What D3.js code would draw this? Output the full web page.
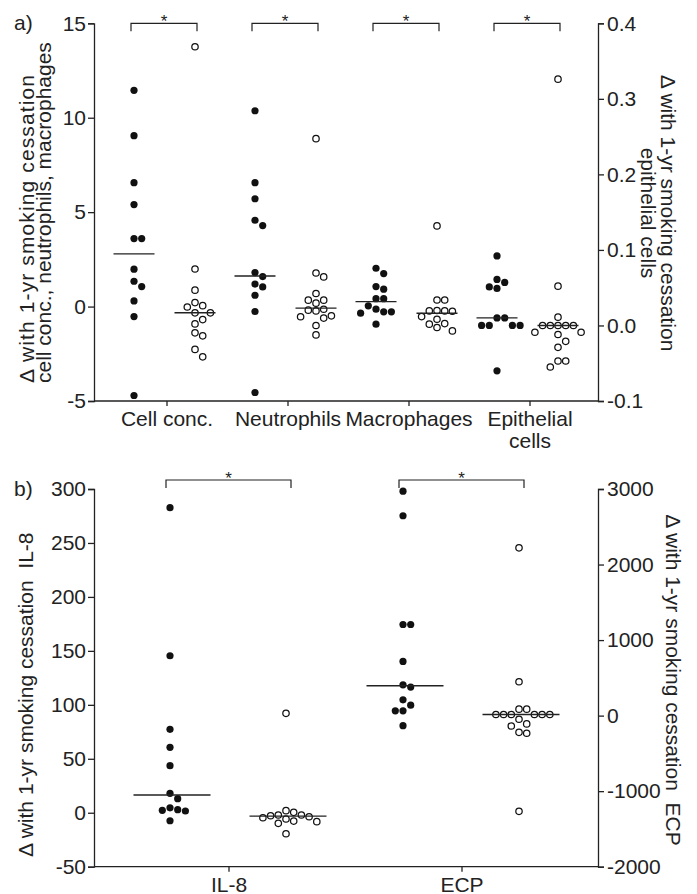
<!DOCTYPE html>
<html>
<head>
<meta charset="utf-8">
<script src="https://cdn.jsdelivr.net/npm/d3@7"></script>
<style>
  body { margin: 0; background: #fff; }
  text { font-family: "Liberation Sans", Arial, sans-serif; fill: #222; }
</style>
</head>
<body>
<div id="chart"></div>
<script>
// ---- panel a: cell counts (left axis) and epithelial cells (right axis)
const cellCategories = ['Cell conc.', 'Neutrophils', 'Macrophages', 'Epithelial cells']
const cellConcBefore = [11.45, 9.05, 6.56, 5.40, 3.60, 3.60, 1.98, 1.34, 1.06, 0.30, -0.53, -4.71]
const cellConcAfter = [13.76, 1.99, 0.87, 0.21, 0.05, -0.02, -0.33, -0.33, -0.69, -0.92, -1.39, -1.55, -2.27, -2.66]
const neutrophilsBefore = [10.37, 6.56, 5.71, 4.57, 4.29, 1.80, 1.59, 1.19, 1.04, 0.60, -0.26, -4.55]
const neutrophilsAfter = [8.89, 1.78, 1.57, 0.69, 0.34, 0.34, 0.18, -0.14, -0.19, -0.23, -0.49, -0.54, -0.61, -1.00, -1.50]
const macrophagesBefore = [2.03, 1.75, 1.06, 0.92, 0.42, 0.42, 0.04, -0.14, -0.28, -0.35, -0.28, -0.93]
const macrophagesAfter = [4.27, 0.35, 0.35, -0.21, -0.23, -0.25, -0.23, -0.53, -0.67, -0.90, -0.93, -1.11, -1.29]
const epithelialBefore = [0.092, 0.061, 0.057, 0.051, 0.049, 0.010, 0.010, 0.0, 0.0, 0.0, 0.0, -0.060]
const epithelialAfter = [0.326, 0.052, 0.011, 0, 0, 0, 0, 0, -0.009, -0.009, -0.012, -0.021, -0.029, -0.047, -0.047, -0.055]
const cellMedians = [[2.79, -0.33], [1.62, -0.08], [0.26, -0.35], [0.010, 0.0]]
const cellRightAxis = [false, false, false, true]
const cellLeftTicks = [-5, 0, 5, 10, 15]
const cellRightTicks = [-0.1, 0.0, 0.1, 0.2, 0.3, 0.4]

// ---- panel b: IL-8 (left axis) and ECP (right axis)
const mediatorCategories = ['IL-8', 'ECP']
const il8Before = [282.7, 145.5, 77.3, 60.6, 43.6, 18.0, 13.0, 4.6, 2.2, 1.6, 2.8, -7.4]
const il8After = [92.1, -3.7, -4.6, 0.4, -8.3, -2.1, -9.8, -19.5, -2.1, -7.7, 1.9, -5.8, -2.8]
const ecpBefore = [2971, 2646, 1206, 1206, 718, 408, 378, 209, 138, 63, 63, -133]
const ecpAfter = [2221, 448, 85, 85, 15, 15, 15, 15, 15, 15, -48, -110, -137, -221, -234, -1267]
const mediatorMedians = [[16.4, -3.1], [395, 15]]
const mediatorRightAxis = [false, true]
const mediatorLeftTicks = [-50, 0, 50, 100, 150, 200, 250, 300]
const mediatorRightTicks = [-2000, -1000, 0, 1000, 2000, 3000]

const W = 697, H = 894
const svg = d3.select('#chart').append('svg').attr('width', W).attr('height', H)
const ink = '#222'
const R = 3.6
const FS = 21

// simple beeswarm: offsets in whole steps, placed from the top value down
function swarm(values, y, step) {
    const placed = []
    const out = []
    const order = d3.range(values.length).sort((a, b) => values[b] - values[a])
    order.forEach(function (i) {
        const py = y(values[i])
        for (let k = 0; k < 40; k++) {
            const dx = k === 0 ? 0 : (k % 2 ? 1 : -1) * Math.ceil(k / 2) * step
            if (placed.every(p => Math.hypot(p.dx - dx, p.py - py) >= step - 0.01)) {
                placed.push({dx, py})
                out.push({dx, py})
                break
            }
        }
    })
    return out
}

// plain hyphen for negatives, like the original
const intFmt = d => String(d)
const oneDecFmt = d => d.toFixed(1)

function draw_panel(p) {
    const g = svg.append('g')
    const yL = d3.scaleLinear().domain(p.leftDomain).range([p.bottom, p.top])
    const yR = d3.scaleLinear().domain(p.rightDomain).range([p.bottom, p.top])
    const x = d3.scaleBand().domain(p.categories).range(p.bandRange)

    // axes
    const left = g.append('g').attr('transform', `translate(${p.left},0)`)
        .call(d3.axisLeft(yL).tickValues(p.leftTicks).tickSize(6).tickPadding(2).tickFormat(p.leftFormat))
    const right = g.append('g').attr('transform', `translate(${p.right},0)`)
        .call(d3.axisRight(yR).tickValues(p.rightTicks).tickSize(6).tickPadding(3).tickFormat(p.rightFormat))
    const bottom = g.append('g').attr('transform', `translate(0,${p.bottom})`)
        .call(d3.axisBottom(x).tickSize(5).tickPadding(7).tickFormat(''))
    bottom.select('.domain').attr('d', `M${p.left},0H${p.right}`)
    ;[left, right, bottom].forEach(a => {
        a.selectAll('.domain, line').attr('stroke', ink).attr('stroke-width', 1.3)
        a.selectAll('text').attr('font-size', FS).attr('fill', ink)
    })

    // category labels (may wrap on two lines)
    p.categories.forEach(function (c) {
        const lines = p.wrap[c] || [c]
        const t = g.append('text').attr('text-anchor', 'middle').attr('font-size', FS)
            .attr('x', x(c) + x.bandwidth() / 2).attr('y', p.bottom + 25)
        lines.forEach((l, i) => t.append('tspan').attr('x', x(c) + x.bandwidth() / 2)
            .attr('dy', i ? 22 : 0).text(l))
    })

    // groups
    p.categories.forEach(function (c, ci) {
        const y = p.rightAxis[ci] ? yR : yL
        const cx = x(c) + x.bandwidth() / 2
        const groups = [p.before[ci], p.after[ci]]
        groups.forEach(function (vals, gi) {
            const gx = cx + p.offsets[gi]
            const pts = swarm(vals, y, 2 * R + 0.5)
            g.append('g').selectAll('circle').data(pts).join('circle')
                .attr('cx', d => gx + d.dx)
                .attr('cy', d => d.py)
                .attr('r', gi ? R - 0.4 : R)
                .attr('fill', gi ? '#fff' : '#111')
                .attr('stroke', gi ? '#111' : 'none')
                .attr('stroke-width', 1.25)
            const m = y(p.medians[ci][gi])
            g.append('line')
                .attr('x1', gx + p.medianOffset - p.medianWidth / 2).attr('x2', gx + p.medianOffset + p.medianWidth / 2)
                .attr('y1', m).attr('y2', m)
                .attr('stroke', ink).attr('stroke-width', 1.4)
        })

        // significance bracket
        const x1 = cx + p.offsets[0] + p.bracket[0]
        const x2 = cx + p.offsets[1] + p.bracket[1]
        g.append('path')
            .attr('d', `M${x1},${p.bracketY + 8}V${p.bracketY}H${x2}V${p.bracketY + 8}`)
            .attr('fill', 'none').attr('stroke', ink).attr('stroke-width', 1.2)
        g.append('text').attr('x', (x1 + x2) / 2).attr('y', p.bracketY + 3.5)
            .attr('text-anchor', 'middle').attr('font-size', 17).text('*')
    })

    // axis titles
    p.leftTitle.forEach(function (l) {
        const t = g.append('text').attr('transform', `translate(${l.x},${l.y}) rotate(-90)`)
            .attr('text-anchor', l.anchor).attr('dominant-baseline', 'central')
            .attr('font-size', FS).text(l.text)
        if (l.length) t.attr('textLength', l.length).attr('lengthAdjust', 'spacing')
    })
    p.rightTitle.forEach(function (l) {
        g.append('text').attr('transform', `translate(${l.x},${l.y}) rotate(90)`)
            .attr('text-anchor', 'middle').attr('dominant-baseline', 'central')
            .attr('font-size', FS).text(l.text)
    })
    g.append('text').attr('x', 14).attr('y', p.top + 7).attr('font-size', FS).text(p.label)
}

draw_panel({
    label: 'a)',
    top: 23.3, bottom: 401, left: 94, right: 598,
    leftDomain: [-5, 15], rightDomain: [-0.1, 0.4],
    leftTicks: cellLeftTicks, rightTicks: cellRightTicks,
    leftFormat: intFmt, rightFormat: oneDecFmt,
    categories: cellCategories,
    wrap: {'Epithelial cells': ['Epithelial', 'cells']},
    bandRange: [106.5, 590.5],
    offsets: [-33, 28],
    before: [cellConcBefore, neutrophilsBefore, macrophagesBefore, epithelialBefore],
    after: [cellConcAfter, neutrophilsAfter, macrophagesAfter, epithelialAfter],
    medians: cellMedians, rightAxis: cellRightAxis,
    medianWidth: 41, medianOffset: 0,
    bracket: [-3, 2], bracketY: 23.3,
    leftTitle: [
        {x: 26, y: 383, anchor: 'start', length: 308, text: '\u0394 with 1-yr smoking cessation'},
        {x: 43, y: 383, anchor: 'start', text: 'cell conc., neutrophils, macrophages'}
    ],
    rightTitle: [
        {x: 668, y: 213, text: '\u0394 with 1-yr smoking cessation'},
        {x: 648, y: 213, text: 'epithelial cells'}
    ]
})

draw_panel({
    label: 'b)',
    top: 489, bottom: 866.7, left: 94, right: 598,
    leftDomain: [-50, 300], rightDomain: [-2000, 3000],
    leftTicks: mediatorLeftTicks, rightTicks: mediatorRightTicks,
    leftFormat: intFmt, rightFormat: intFmt,
    categories: mediatorCategories,
    wrap: {},
    bandRange: [112.5, 578.5],
    offsets: [-59, 57],
    before: [il8Before, ecpBefore],
    after: [il8After, ecpAfter],
    medians: mediatorMedians, rightAxis: mediatorRightAxis,
    medianWidth: 77, medianOffset: 2,
    bracket: [-4, 5], bracketY: 480,
    leftTitle: [
        {x: 25, y: 857, anchor: 'start', text: '\u0394 with 1-yr smoking cessation\u00a0\u00a0IL-8'}
    ],
    rightTitle: [
        {x: 673, y: 680, text: '\u0394 with 1-yr smoking cessation\u00a0\u00a0ECP'}
    ]
})
</script>
</body>
</html>
